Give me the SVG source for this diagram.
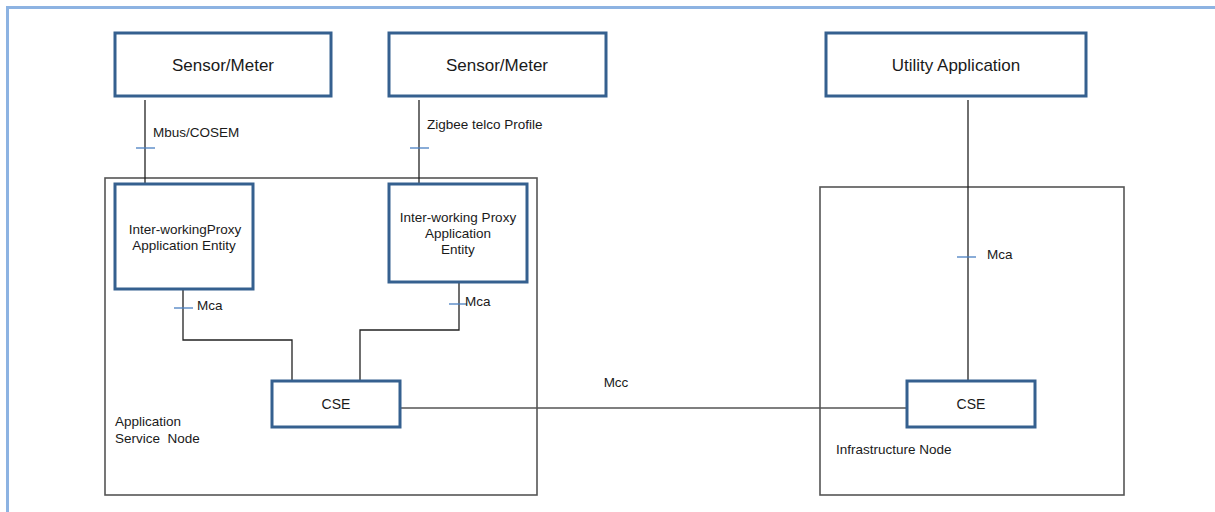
<svg xmlns="http://www.w3.org/2000/svg" width="1215" height="512" viewBox="0 0 1215 512">
  <style>
    .node { fill: #ffffff; stroke: #35608f; stroke-width: 3; }
    .area { fill: none; stroke: #555555; stroke-width: 1.6; }
    .wire { fill: none; stroke: #222222; stroke-width: 1.3; }
    .mcc { fill: none; stroke: #555555; stroke-width: 1.6; }
    .tick { stroke: #4a7fc1; stroke-width: 1.3; }
    text { font-family: "Liberation Sans", Arial, sans-serif; fill: #1a1a1a; }
    .big { font-size: 17px; text-anchor: middle; }
    .mid { font-size: 13.5px; text-anchor: middle; }
    .lbl { font-size: 13.5px; }
  </style>

  <rect width="1215" height="512" fill="#ffffff"/>
  <!-- page frame -->
  <path d="M7.5 512 V7.5 H1215" fill="none" stroke="#8db3e2" stroke-width="3"/>

  <!-- containers -->
  <g id="application-service-node">
    <rect class="area" x="105" y="178" width="432" height="317"/>
    <text class="lbl" x="115" y="426">Application</text>
    <text class="lbl" x="115" y="443" xml:space="preserve">Service  Node</text>
  </g>
  <g id="infrastructure-node">
    <rect class="area" x="820" y="187" width="304" height="308"/>
    <text class="lbl" x="836" y="454">Infrastructure Node</text>
  </g>

  <!-- connectors -->
  <g id="connectors">
    <line class="wire" x1="145" y1="100" x2="145" y2="186"/>
    <line class="tick" x1="136" y1="148" x2="155" y2="148"/>
    <text class="lbl" x="153" y="137">Mbus/COSEM</text>

    <line class="wire" x1="419" y1="100" x2="419" y2="186"/>
    <line class="tick" x1="410" y1="148" x2="429" y2="148"/>
    <text class="lbl" x="427" y="129">Zigbee telco Profile</text>

    <polyline class="wire" points="183,289 183,340 292,340 292,381"/>
    <line class="tick" x1="174" y1="308" x2="193" y2="308"/>
    <text class="lbl" x="197" y="310">Mca</text>

    <polyline class="wire" points="459,282 459,330 360,330 360,381"/>
    <line class="tick" x1="449" y1="304" x2="467" y2="304"/>
    <text class="lbl" x="465" y="306">Mca</text>

    <line class="wire" x1="968" y1="100" x2="968" y2="381"/>
    <line class="tick" x1="957" y1="257" x2="976" y2="257"/>
    <text class="lbl" x="987" y="259">Mca</text>

    <line class="mcc" x1="400" y1="408" x2="907" y2="408"/>
    <text class="lbl" x="616" y="387" text-anchor="middle">Mcc</text>
  </g>

  <!-- nodes -->
  <g id="sensor-meter-1">
    <rect class="node" x="115" y="33" width="216" height="63"/>
    <text class="big" x="223" y="71">Sensor/Meter</text>
  </g>
  <g id="sensor-meter-2">
    <rect class="node" x="389" y="33" width="217" height="63"/>
    <text class="big" x="497" y="71">Sensor/Meter</text>
  </g>
  <g id="utility-application">
    <rect class="node" x="826" y="33" width="260" height="63"/>
    <text class="big" x="956" y="71">Utility Application</text>
  </g>
  <g id="iwp-ae-1">
    <rect class="node" x="115" y="184" width="138" height="105"/>
    <text class="mid" x="185" y="234">Inter-workingProxy</text>
    <text class="mid" x="184" y="250">Application Entity</text>
  </g>
  <g id="iwp-ae-2">
    <rect class="node" x="389" y="184" width="138" height="98"/>
    <text class="mid" x="458" y="222">Inter-working Proxy</text>
    <text class="mid" x="458" y="238">Application</text>
    <text class="mid" x="458" y="254">Entity</text>
  </g>
  <g id="cse-asn">
    <rect class="node" x="272" y="381" width="128" height="46"/>
    <text class="mid" x="336" y="409" style="font-size:14px">CSE</text>
  </g>
  <g id="cse-in">
    <rect class="node" x="907" y="381" width="128" height="46"/>
    <text class="mid" x="971" y="409" style="font-size:14px">CSE</text>
  </g>
</svg>
